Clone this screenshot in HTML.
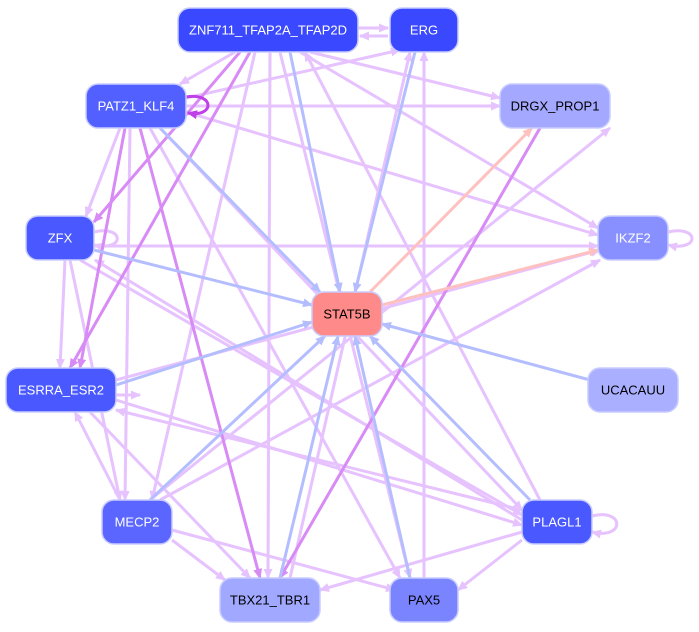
<!DOCTYPE html>
<html><head><style>
html,body{margin:0;padding:0;background:#fff;}
svg{display:block;}
.n text{font-family:"Liberation Sans",sans-serif;font-size:13px;fill:#fff;text-anchor:middle;dominant-baseline:central;}
</style></head><body>
<svg width="699" height="632" viewBox="0 0 699 632" xmlns="http://www.w3.org/2000/svg">
<defs>
<marker id="mp" markerWidth="3.4" markerHeight="3" refX="3" refY="1.5" orient="auto" markerUnits="strokeWidth"><path d="M0,0L3.4,1.5L0,3z" fill="#e6c2ff"/></marker>
<marker id="md" markerWidth="3.4" markerHeight="3" refX="3" refY="1.5" orient="auto" markerUnits="strokeWidth"><path d="M0,0L3.4,1.5L0,3z" fill="#d88af5"/></marker>
<marker id="mb" markerWidth="3.4" markerHeight="3" refX="3" refY="1.5" orient="auto" markerUnits="strokeWidth"><path d="M0,0L3.4,1.5L0,3z" fill="#b4beff"/></marker>
<marker id="mr" markerWidth="3.4" markerHeight="3" refX="3" refY="1.5" orient="auto" markerUnits="strokeWidth"><path d="M0,0L3.4,1.5L0,3z" fill="#ffc0c0"/></marker>
<marker id="mv" markerWidth="3.4" markerHeight="3" refX="3" refY="1.5" orient="auto" markerUnits="strokeWidth"><path d="M0,0L3.4,1.5L0,3z" fill="#c040e8"/></marker>
</defs>
<g fill="none" stroke-width="3">
<g stroke="#e6c2ff" marker-end="url(#mp)">
<line x1="235" y1="52" x2="180" y2="84"/>
<line x1="358" y1="28" x2="388" y2="28"/>
<line x1="388" y1="36" x2="360" y2="36"/>
<line x1="270" y1="52" x2="268" y2="578"/>
<line x1="280" y1="52" x2="410" y2="578"/>
<line x1="255" y1="52" x2="152" y2="500"/>
<line x1="310" y1="52" x2="500" y2="98"/>
<line x1="300" y1="52" x2="598" y2="228"/>
<line x1="186" y1="98" x2="400" y2="50"/>
<line x1="186" y1="106" x2="500" y2="106"/>
<line x1="186" y1="112" x2="598" y2="235"/>
<line x1="120" y1="128" x2="86" y2="216"/>
<line x1="130" y1="128" x2="125" y2="500"/>
<line x1="150" y1="128" x2="400" y2="578"/>
<line x1="160" y1="128" x2="522" y2="510"/>
<line x1="94" y1="246" x2="598" y2="246"/>
<line x1="70" y1="260" x2="120" y2="500"/>
<line x1="80" y1="260" x2="522" y2="515"/>
<line x1="65" y1="260" x2="60" y2="368"/>
<line x1="116" y1="380" x2="600" y2="250"/>
<line x1="116" y1="400" x2="522" y2="525"/>
<line x1="90" y1="412" x2="250" y2="578"/>
<line x1="150" y1="500" x2="610" y2="128"/>
<line x1="160" y1="500" x2="600" y2="260"/>
<line x1="172" y1="530" x2="395" y2="590"/>
<line x1="120" y1="500" x2="75" y2="412"/>
<line x1="172" y1="540" x2="225" y2="580"/>
<line x1="522" y1="532" x2="320" y2="590"/>
<line x1="522" y1="510" x2="116" y2="410"/>
<line x1="522" y1="520" x2="95" y2="260"/>
<line x1="522" y1="540" x2="458" y2="590"/>
<line x1="424" y1="578" x2="424" y2="52"/>
<line x1="290" y1="578" x2="410" y2="52"/>
<line x1="540" y1="500" x2="305" y2="52"/>
<line x1="116" y1="395" x2="140" y2="395"/>
<path d="M94,232 C125,225 125,252 94,245"/>
<path d="M668,232 C700,225 700,252 668,245"/>
<path d="M592,516 C625,508 625,540 592,532"/>
</g>
<g stroke="#d88af5" marker-end="url(#md)">
<line x1="240" y1="52" x2="94" y2="222"/>
<line x1="250" y1="52" x2="70" y2="368"/>
<line x1="140" y1="128" x2="260" y2="578"/>
<line x1="540" y1="128" x2="280" y2="578"/>
<line x1="125" y1="128" x2="80" y2="368"/>
</g>
<path d="M186,97 C215,92 215,118 188,113" stroke="#c040e8" marker-end="url(#mv)"/>
<g stroke="#b4beff" marker-end="url(#mb)">
<line x1="290" y1="52" x2="340" y2="292"/>
<line x1="415" y1="52" x2="355" y2="292"/>
<line x1="160" y1="128" x2="320" y2="292"/>
<line x1="94" y1="250" x2="312" y2="305"/>
<line x1="116" y1="385" x2="312" y2="322"/>
<line x1="150" y1="500" x2="325" y2="336"/>
<line x1="530" y1="500" x2="370" y2="336"/>
<line x1="590" y1="380" x2="382" y2="324"/>
<line x1="280" y1="578" x2="338" y2="336"/>
<line x1="410" y1="578" x2="355" y2="336"/>
</g>
<g stroke="#ffc0c0" marker-end="url(#mr)">
<line x1="370" y1="292" x2="532" y2="128"/>
<line x1="382" y1="305" x2="598" y2="250"/>
</g>
</g>
<g class="n" stroke="#c8ccff" stroke-width="1.5">
<rect x="178" y="8" width="180" height="44" rx="12" fill="#3a48ff"/><text x="268" y="30" stroke="none">ZNF711_TFAP2A_TFAP2D</text>
<rect x="390" y="8" width="68" height="44" rx="12" fill="#3a48ff"/><text x="424" y="30" stroke="none">ERG</text>
<rect x="86" y="84" width="100" height="44" rx="12" fill="#5260ff"/><text x="136" y="106" stroke="none">PATZ1_KLF4</text>
<rect x="500" y="84" width="110" height="44" rx="12" fill="#a4a9ff"/><text x="555" y="106" stroke="none" style="fill:#000">DRGX_PROP1</text>
<rect x="26" y="216" width="68" height="44" rx="12" fill="#4a58ff"/><text x="60" y="238" stroke="none">ZFX</text>
<rect x="598" y="216" width="70" height="44" rx="12" fill="#8890ff"/><text x="633" y="238" stroke="none">IKZF2</text>
<rect x="312" y="292" width="70" height="44" rx="12" fill="#ff8a8a"/><text x="347" y="314" stroke="none" style="fill:#000">STAT5B</text>
<rect x="6" y="368" width="110" height="44" rx="12" fill="#4a58ff"/><text x="61" y="390" stroke="none">ESRRA_ESR2</text>
<rect x="588" y="368" width="90" height="44" rx="12" fill="#aab0ff"/><text x="633" y="390" stroke="none" style="fill:#000">UCACAUU</text>
<rect x="102" y="500" width="70" height="44" rx="12" fill="#5a66ff"/><text x="137" y="522" stroke="none">MECP2</text>
<rect x="522" y="500" width="70" height="44" rx="12" fill="#4a58ff"/><text x="557" y="522" stroke="none">PLAGL1</text>
<rect x="220" y="578" width="100" height="44" rx="12" fill="#a0a8ff"/><text x="270" y="600" stroke="none" style="fill:#000">TBX21_TBR1</text>
<rect x="390" y="578" width="68" height="44" rx="12" fill="#7a84ff"/><text x="424" y="600" stroke="none" style="fill:#000">PAX5</text>
</g>
</svg>
</body></html>
